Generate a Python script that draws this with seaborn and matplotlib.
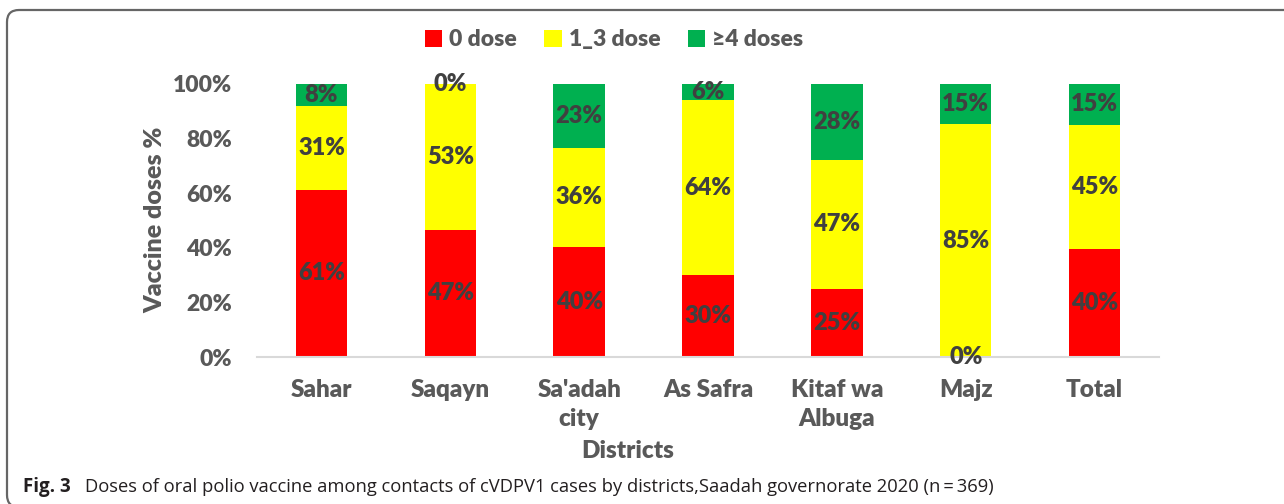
import matplotlib
matplotlib.use("Agg")
import matplotlib.pyplot as plt
import matplotlib.patches as mpatches
from matplotlib.transforms import IdentityTransform
import seaborn as sns
import pandas as pd
import numpy as np

districts = ["Sahar", "Saqayn", "Sa'adah\ncity", "As Safra", "Kitaf wa\nAlbuga", "Majz", "Total"]
dose_0 = [61.2, 46.6, 40.4, 30.0, 24.9, 0.0, 39.6]
dose_1_3 = [30.8, 53.4, 36.2, 64.1, 47.3, 85.3, 45.4]
dose_4plus = [8.0, 0.0, 23.4, 5.9, 27.8, 14.7, 15.0]
series_names = ["0 dose", "1_3 dose", "\u22654 doses"]
series_colors = ["#FF0000", "#FFFF00", "#00B050"]
y_ticks = [0, 20, 40, 60, 80, 100]

sns.set_theme(style="white")
plt.rcParams["font.family"] = ["Lato", "DejaVu Sans"]

W, H = 1284, 504
fig = plt.figure(figsize=(W / 100, H / 100), dpi=100)
ax = fig.add_axes([257 / W, 1 - 357 / H, (1159 - 257) / W, (357 - 84) / H])

df = pd.DataFrame({"district": districts, "d0": dose_0, "d13": dose_1_3, "d4": dose_4plus})
df["top"] = df["d0"] + df["d13"] + df["d4"]
df["mid"] = df["d0"] + df["d13"]

bw = 0.4
sns.barplot(data=df, x="district", y="top", color=series_colors[2], width=bw, linewidth=0, ax=ax, saturation=1)
sns.barplot(data=df, x="district", y="mid", color=series_colors[1], width=bw, linewidth=0, ax=ax, saturation=1)
sns.barplot(data=df, x="district", y="d0", color=series_colors[0], width=bw, linewidth=0, ax=ax, saturation=1)

WT = "heavy"
lab_col = "#404040"
for i in range(len(districts)):
    segs = [(0, dose_0[i]), (dose_0[i], dose_1_3[i]), (dose_0[i] + dose_1_3[i], dose_4plus[i])]
    for b, h in segs:
        ax.text(i, b + h / 2, f"{h:.0f}%", ha="center", va="center", fontsize=17,
                fontweight=WT, color=lab_col, clip_on=False)

ax.set_ylim(0, 100)
ax.set_xlim(-0.5, len(districts) - 0.5)
ax.set_yticks(y_ticks)
ax.set_yticklabels([f"{t}%" for t in y_ticks])
ax.set_xticks(range(len(districts)))
ax.set_xticklabels(districts, linespacing=1.35)
ax.set_xticks(np.arange(-0.5, len(districts), 1.0), minor=True)
tick_col = "#595959"
ax.tick_params(axis="y", length=0, pad=18, labelsize=16.5, labelcolor=tick_col)
ax.tick_params(axis="x", which="major", length=0, pad=16, labelsize=17.5, labelcolor=tick_col)
ax.tick_params(axis="x", which="minor", length=8, width=1.2, color="#d9d9d9", direction="out")
for lab in ax.get_yticklabels() + ax.get_xticklabels():
    lab.set_fontweight(WT)
ax.set_xlabel("")
ax.set_ylabel("")
for s in ["left", "right", "top"]:
    ax.spines[s].set_visible(False)
ax.spines["bottom"].set_color("#d9d9d9")
ax.spines["bottom"].set_linewidth(1.5)
ax.grid(False)

fig.text(155 / W, 1 - 220 / H, "Vaccine doses %", rotation=90, ha="center", va="center",
         fontsize=18, fontweight=WT, color=tick_col)
fig.text(628 / W, 1 - 451 / H, "Districts", ha="center", va="center",
         fontsize=17.5, fontweight=WT, color=tick_col)

handles = [mpatches.Patch(facecolor=c, edgecolor="none", label=n) for c, n in zip(series_colors, series_names)]
leg = fig.legend(handles=handles, loc="center", bbox_to_anchor=(614 / W, 1 - 40 / H), ncol=3,
                 frameon=False, handlelength=0.75, handleheight=0.75, handletextpad=0.3,
                 columnspacing=1.2, prop={"size": 16.5, "weight": WT})
for t in leg.get_texts():
    t.set_color(tick_col)

fig.text(23 / W, 1 - 487 / H, "Fig. 3", ha="left", va="center", fontsize=13.5, fontweight="bold",
         color="#231f20", family=["Open Sans", "DejaVu Sans"])
fig.text(85 / W, 1 - 487 / H,
         "Doses of oral polio vaccine among contacts of cVDPV1 cases by districts,Saadah governorate 2020 (n\u2009=\u2009369)",
         ha="left", va="center", fontsize=13.2, color="#231f20", family=["Open Sans", "DejaVu Sans"])

border = mpatches.FancyBboxPatch((7, -3), 1400, (H - 10) - (-3),
                                 boxstyle="round,pad=0,rounding_size=12",
                                 facecolor="none", edgecolor="#666666", linewidth=1.6,
                                 transform=IdentityTransform())
fig.patches.append(border)

fig.savefig("out.png", dpi=100)
